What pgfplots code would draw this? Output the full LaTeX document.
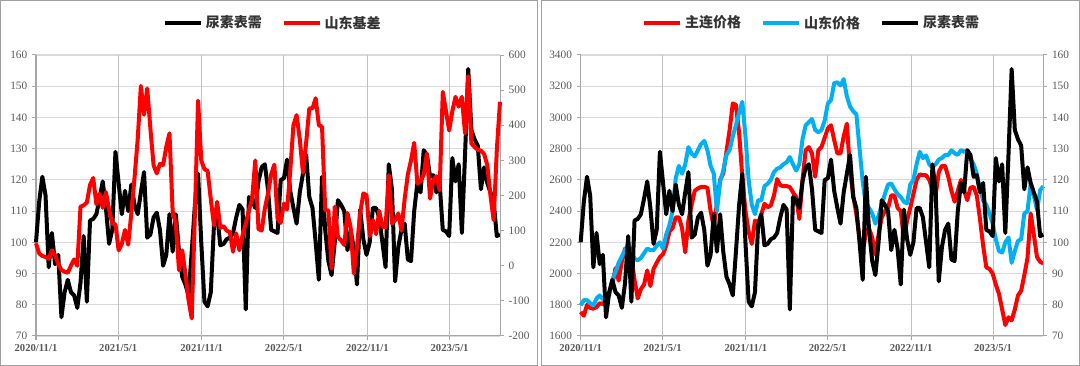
\documentclass[border=0pt]{standalone}
\usepackage{pgfplots}
\pgfplotsset{compat=1.18}
\usepackage{pgfplotstable}
\usepackage{fontspec}
\setmainfont{Liberation Serif}
\newfontfamily\cjk{Noto Sans CJK SC}
\definecolor{cred}{HTML}{FF0000}
\definecolor{ccyan}{HTML}{00B0F0}
\definecolor{gridc}{HTML}{D9D9D9}
\definecolor{vgrid}{HTML}{C0C0C0}
\definecolor{axc}{HTML}{A6A6A6}
\definecolor{txt}{HTML}{595959}
\definecolor{bordc}{HTML}{A0A0A0}

\pgfplotstableread{
w ur bs zl sd
0 100 64 1754 1797
1 113 35 1730 1829
2 121 28 1800 1830
3 115 25 1780 1810
4 92 20 1775 1795
5 103 44 1785 1840
6 93 30 1810 1860
7 96 5 1805 1835
8 76 -12 1830 1850
9 84 -17 1880 1860
10 88 -20 1930 1960
11 84 0 2035 2010
12 83 18 1955 2070
13 79 0 2080 2110
14 87 168 2160 2150
15 102 172 2150 2190
16 81 180 2100 2150
17 107 230 1960 2095
18 107.5 250 1840 2085
19 109 175 1900 2100
20 114 205 1930 2130
21 119.5 165 2020 2160
22 111 210 1920 2150
23 99.5 160 2030 2150
24 104 120 2070 2180
25 129 118 2105 2200
26 119 44 2125 2160
27 109 62 2180 2250
28 116.5 102 2270 2310
29 110 60 2290 2400
30 118.5 150 2360 2610
31 112 250 2360 2690
32 109 360 2290 2640
33 116 512 2136 2700
34 122.5 430 2340 2810
35 101.5 505 2440 2768
36 102.5 390 2530 2750
37 108 286 2545 2790
38 109.5 263 2555 2830
39 104 290 2555 2850
40 92.5 287 2550 2790
41 96 339 2400 2690
42 109 377 2300 2640
43 97 154 2450 2400
44 109 120 2600 2590
45 97 -13 2640 2660
46 89 44 2780 2760
47 86.5 -22 2920 2790
48 83 -98 3090 2880
49 97 -150 3080 2950
50 112 150 2900 3030
51 122 470 2620 3100
52 100 300 2400 2880
53 81 275 2270 2600
54 79.5 270 2190 2440
55 84 190 2340 2380
56 105.5 115 2320 2470
57 109 182 2380 2468
58 99 108 2447 2560
59 99.5 113 2425 2575
60 101 100 2436 2600
61 101.5 96 2500 2650
62 103 40 2605 2672
63 108 92 2565 2680
64 112 44 2560 2700
65 110.5 87 2560 2714
66 78.5 120 2554 2746
67 114.5 158 2520 2700
68 113.5 190 2490 2660
69 111 300 2350 2700
70 119.5 105 2600 2860
71 124 100 2790 2950
72 125 163 2810 2970
73 117 206 2770 2990
74 104 260 2620 2920
75 103.5 288 2790 2905
76 103 134 2811 2920
77 120 122 2870 2980
78 120.5 177 2930 3090
79 126.5 160 2950 3111
80 116.5 270 2855 3220
81 111 400 2770 3225
82 106 429 2770 3205
83 116 360 2880 3245
84 122 265 2960 3135
85 128 350 2660 3070
86 114.5 448 2500 3040
87 111 448 2380 3020
88 100 477 2230 2800
89 88 400 2140 2590
90 121 396 2260 2440
91 104 158 2290 2420
92 94 158 2230 2385
93 89.5 -8 2120 2320
94 100 168 2250 2370
95 113.5 82 2360 2440
96 112 72 2400 2510
97 110 59 2420 2570
98 97.5 150 2500 2577
99 104 110 2500 2540
100 98 -22 2420 2510
101 86.5 54 2400 2490
102 110.5 150 2220 2460
103 101 206 2340 2450
104 96 201 2420 2570
105 100 85 2509 2600
106 111 130 2600 2700
107 111 90 2635 2780
108 108 156 2630 2740
109 100 111 2630 2756
110 92 110 2600 2700
111 125 258 2540 2680
112 117 120 2500 2700
113 87.5 130 2650 2730
114 98.5 149 2690 2740
115 104 100 2690 2760
116 106 190 2620 2760
117 94.5 260 2530 2789
118 94 300 2460 2770
119 110 350 2530 2760
120 119 234 2600 2791
121 116 240 2530 2780
122 129.5 260 2470 2789
123 128 320 2550 2740
124 121 191 2555 2700
125 121.5 244 2500 2641
126 116 255 2350 2540
127 119 215 2180 2467
128 104 495 2040 2440
129 103.5 440 2030 2385
130 102 385 2000 2320
131 127 440 1930 2220
132 119.5 481 1870 2144
133 125 453 1770 2134
134 103 481 1670 2200
135 128 377 1720 2231
136 155.5 540 1700 2069
137 136 348 1770 2144
138 133 338 1860 2209
139 131 330 1890 2220
140 117 328 1990 2385
141 124 318 2100 2400
142 119 287 2385 2577
143 116 200 2250 2500
144 113 130 2106 2406
145 102 330 2075 2534
146 102.5 467 2065 2560
}\datatab

\pgfplotsset{
  base/.style={
    scale only axis, height=210.75pt, anchor=south west,
    xmin=0, xmax=146, clip=false,
    xtick={0,25.857,52.143,78,104.286,130.143},
    xticklabels={2020/11/1,2021/5/1,2021/11/1,2022/5/1,2022/11/1,2023/5/1},
    xticklabel style={font=\bfseries\fontsize{8}{9}\selectfont, text=txt},
    yticklabel style={font=\fontsize{8.5}{10}\selectfont, text=txt},
    /pgf/number format/assume math mode=true,
    /pgf/number format/1000 sep={},
    axis line style={draw=axc, line width=0.75pt},
    tick style={draw=axc, line width=0.75pt},
    tick align=outside, major tick length=3pt,
  },
  first/.style={
    base, axis x line*=bottom, axis y line*=left,
    ymajorgrids, major grid style={draw=gridc, line width=0.9pt},
    extra x ticks={25.857,52.143,78,104.286,130.143},
    extra x tick labels={},
    extra x tick style={grid=major, major grid style={draw=vgrid, line width=0.75pt}},
  },
  second/.style={
    base, hide x axis, axis y line*=right,
    legend columns=-1,
    legend style={draw=none, fill=none, anchor=center,
      font=\cjk\bfseries\fontsize{10.5}{12}\selectfont, text=black!80,
      /tikz/every even column/.append style={column sep=13pt}},
    legend image code/.code={\draw[##1, line width=3.2pt] (0pt,0pt) -- (27pt,0pt);},
  },
  ser/.style={line width=3pt, line join=round},
}

\begin{document}
\begin{tikzpicture}
\useasboundingbox (0,0) rectangle (810pt,274.5pt);
% left panel
\begin{axis}[first, at={(27pt,22.5pt)}, width=348pt,
  ymin=70, ymax=160, ytick distance=10]
\addplot[ser, black] table[x=w, y=ur] {\datatab};
\end{axis}
\begin{axis}[second, at={(27pt,22.5pt)}, width=348pt,
  ymin=-200, ymax=600, ytick distance=100,
  legend style={at={(0.511,1.114)}}]
\addlegendimage{black}
\addlegendentry{尿素表需}
\addplot[ser, cred] table[x=w, y=bs] {\datatab};
\addlegendentry{山东基差}
\end{axis}
% right panel
\begin{axis}[first, at={(435.5pt,22.5pt)}, width=347pt,
  ymin=1600, ymax=3400, ytick distance=200]
\addplot[ser, cred] table[x=w, y=zl] {\datatab};
\addplot[ser, ccyan] table[x=w, y=sd] {\datatab};
\end{axis}
\begin{axis}[second, at={(435.5pt,22.5pt)}, width=347pt,
  ymin=70, ymax=160, ytick distance=10,
  legend style={at={(0.5,1.114)}}]
\addlegendimage{cred}
\addlegendentry{主连价格}
\addlegendimage{ccyan}
\addlegendentry{山东价格}
\addplot[ser, black] table[x=w, y=ur] {\datatab};
\addlegendentry{尿素表需}
\end{axis}
\draw[bordc, line width=0.75pt] (0.375pt,0.375pt) rectangle (402.75pt,274.125pt);
\draw[bordc, line width=0.75pt] (405.75pt,0.375pt) rectangle (809.625pt,274.125pt);
\end{tikzpicture}
\end{document}
